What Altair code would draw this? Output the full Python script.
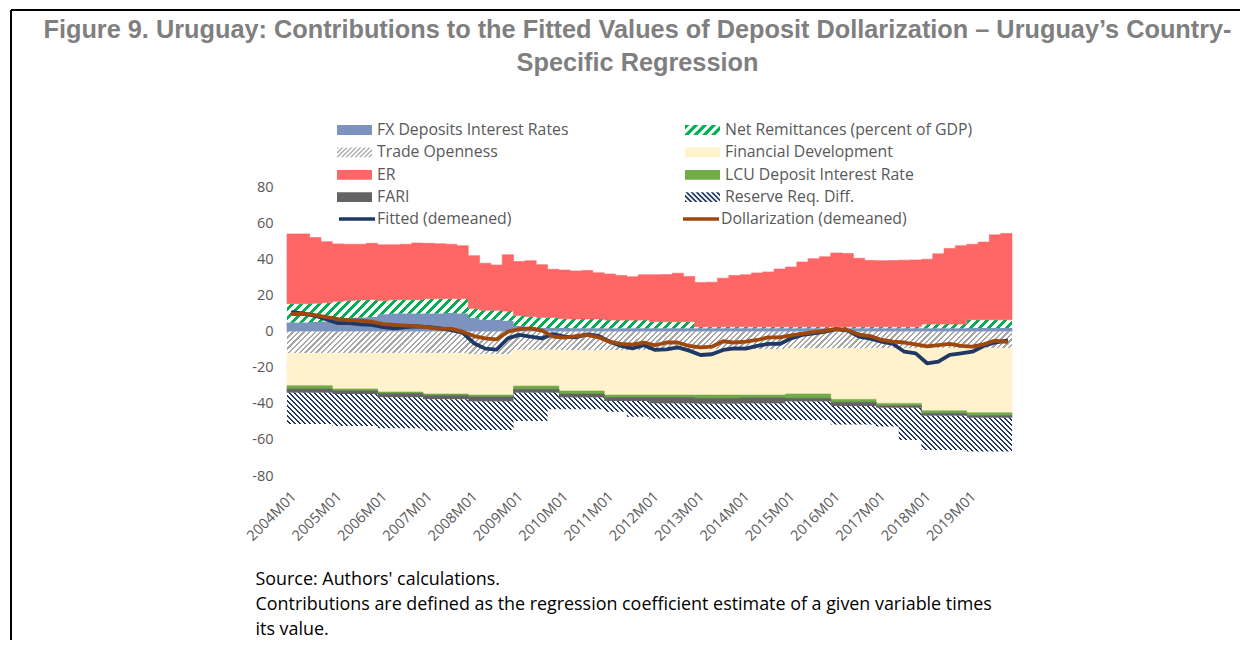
import altair as alt
import numpy as np
import pandas as pd

# ---------------- data ----------------
tick_labels = ["2004M01", "2005M01", "2006M01", "2007M01", "2008M01", "2009M01",
               "2010M01", "2011M01", "2012M01", "2013M01", "2014M01", "2015M01",
               "2016M01", "2017M01", "2018M01", "2019M01"]

# quarterly contributions 2004Q1 ... 2019Q4
fx_q = [5.0, 5.0, 5.2, 5.5, 7.0, 7.5, 7.8, 8.0, 9.5, 10.0, 10.0, 10.0,
        10.0, 10.0, 10.2, 10.0, 7.5, 6.5, 6.5, 6.0, 3.0, 2.5, 2.0, 2.0,
        1.9, 1.8, 1.8, 1.8, 1.8, 1.8, 1.8, 1.8, 1.8, 1.8, 1.8, 1.8,
        1.8, 1.8, 1.8, 1.8, 1.8, 1.8, 1.8, 1.8, 1.8, 1.8, 1.8, 1.8,
        1.8, 1.8, 1.8, 1.8, 1.8, 1.8, 1.8, 1.8, 1.8, 1.8, 1.8, 1.8,
        2.0, 2.0, 2.0, 2.0]
er_q = [38.6, 38.6, 36.4, 33.8, 31.8, 31.1, 30.8, 31.1, 30.9, 30.4, 30.7, 31.4,
        30.7, 30.5, 30.0, 29.4, 29.2, 26.0, 25.0, 31.2, 29.9, 30.9, 29.2, 26.7,
        27.0, 26.6, 26.9, 25.6, 25.5, 24.7, 24.0, 25.1, 26.0, 26.1, 26.9, 25.1,
        24.5, 24.7, 26.9, 28.4, 28.8, 29.8, 30.4, 32.0, 33.1, 35.9, 37.7, 38.8,
        40.9, 40.6, 37.9, 36.7, 36.6, 36.7, 36.9, 37.0, 35.9, 38.9, 41.9, 43.4,
        41.8, 43.0, 47.0, 47.8]
rr_q = [-17.3, -17.3, -17.3, -17.3, -17.7, -17.7, -17.7, -17.7,
        -17.2, -17.2, -17.2, -17.2, -17.4, -17.4, -17.4, -17.4,
        -15.7, -15.7, -15.7, -15.7, -15.7, -15.7, -15.7, -9.2,
        -6.5, -6.5, -6.5, -6.5, -5.9, -5.9, -8.7, -8.7,
        -8.3, -8.3, -8.3, -8.3, -8.5, -8.5, -8.5, -8.5,
        -9.2, -9.2, -9.2, -9.2, -10.2, -10.2, -10.2, -10.2,
        -10.2, -10.2, -10.2, -10.2, -10.4, -10.4, -17.9, -17.9,
        -19.0, -19.0, -19.0, -19.0, -18.8, -18.8, -18.8, -18.8]
fitted_q = [10.7, 9.9, 8.7, 6.7, 4.6, 4.6, 4.0, 3.7, 2.4, 1.7, 2.4, 2.8,
            2.4, 1.7, 0.8, -0.6, -6.5, -9.5, -10.0, -3.8, -1.9, -2.8, -3.8, -1.4,
            -2.8, -3.2, -1.6, -2.4, -5.6, -8.0, -9.3, -7.6, -10.2, -9.9, -8.8, -10.6,
            -13.0, -12.6, -10.2, -9.3, -9.5, -8.0, -6.9, -6.9, -3.8, -1.9, -1.0, -0.1,
            1.3, 0.5, -2.8, -3.9, -5.6, -6.9, -11.2, -12.1, -17.6, -16.7, -13.0, -12.1,
            -11.2, -8.0, -6.1, -5.0]
dollar_q = [9.7, 9.7, 9.1, 7.9, 6.9, 6.3, 6.0, 5.4, 4.1, 3.7, 3.3, 3.0,
            2.3, 1.5, 1.5, -0.1, -2.5, -3.8, -4.4, -0.1, 1.3, 1.7, 0.5, -2.8,
            -3.4, -2.5, -1.9, -3.2, -5.8, -6.9, -7.3, -6.1, -7.6, -6.1, -6.1, -8.0,
            -8.8, -8.4, -5.4, -6.1, -5.6, -4.7, -3.2, -3.2, -2.1, -1.2, -0.4, 0.5,
            1.5, 0.7, -1.7, -2.5, -4.7, -5.6, -6.1, -7.1, -8.2, -7.6, -6.9, -8.0,
            -8.4, -7.1, -5.0, -5.8]

# annual contributions 2004 ... 2019
nr_a = [10.4, 9.7, 7.6, 8.1, 5.3, 5.8, 5.1, 4.5, 3.6, 0.8, 0.8, 0.8, 0.8, 0.8, 2.3, 4.5]
trade_a = [-12.1, -12.0, -12.0, -12.0, -12.7, -10.2, -10.5, -10.5, -10.5, -10.0,
           -10.0, -9.5, -9.5, -9.3, -9.3, -9.3]
findev_a = [-17.9, -19.8, -21.5, -22.6, -22.5, -20.0, -22.4, -24.7, -24.7, -25.2,
            -25.2, -25.1, -28.1, -30.5, -34.6, -35.7]
lcu_a = [-1.8, -1.0, -0.8, -0.8, -1.0, -1.8, -1.7, -1.3, -1.3, -1.8, -1.5, -2.4,
         -1.6, -1.3, -1.4, -1.6]
fari_a = [-2.1, -1.8, -2.1, -2.1, -2.6, -1.9, -2.0, -2.0, -3.3, -3.0, -3.1, -1.8,
          -2.1, -1.1, -1.3, -1.1]

title_lines = ["Figure 9. Uruguay: Contributions to the Fitted Values of Deposit Dollarization \u2013 Uruguay\u2019s Country-",
               "Specific Regression"]
source_lines = ["Source: Authors' calculations.",
                "Contributions are defined as the regression coefficient estimate of a given variable times",
                "its value."]

# ---------------- layout / style ----------------
W, H = 725, 289
Y_MIN, Y_MAX = -80, 80
PX = H / (Y_MAX - Y_MIN)
NQ = len(fx_q)

FONT = "Open Sans"
TXT = "#595959"

# legend order (column-major in a 2-column legend -> matches the reference rows)
names = ["FX Deposits Interest Rates", "Trade Openness", "ER", "FARI",
         "Net Remittances (percent of GDP)", "Financial Development",
         "LCU Deposit Interest Rate", "Reserve Req. Diff."]
colors = {"FX Deposits Interest Rates": "#7b93be",
          "Net Remittances (percent of GDP)": "#00b050",
          "Trade Openness": "#a6a6a6",
          "Financial Development": "#fff2cc",
          "ER": "#ff6666",
          "LCU Deposit Interest Rate": "#70ad47",
          "FARI": "#636363",
          "Reserve Req. Diff.": "#203864"}
hatch_style = {"Net Remittances (percent of GDP)": (9.0, 0.5, "/", 0.51, 0.26),
               "Trade Openness": (5.5, 0.4, "/", 0.26, 0.10),
               "Reserve Req. Diff.": (5.0, 0.5, "\\", 0.29, 0.14)}


def rep(a):
    return np.repeat(np.asarray(a, float), 4)


pos_order = [("FX Deposits Interest Rates", np.asarray(fx_q, float)),
             ("Net Remittances (percent of GDP)", rep(nr_a)),
             ("ER", np.asarray(er_q, float))]
neg_order = [("Trade Openness", rep(trade_a)),
             ("Financial Development", rep(findev_a)),
             ("LCU Deposit Interest Rate", rep(lcu_a)),
             ("FARI", rep(fari_a)),
             ("Reserve Req. Diff.", np.asarray(rr_q, float))]


def stack(order):
    base = np.zeros(NQ)
    out = {}
    for name, v in order:
        out[name] = (base.copy(), base + v)
        base = base + v
    return out


bounds = {**stack(pos_order), **stack(neg_order)}


def step_frame(lo, hi):
    # each quarter starts at month 3q; the closing row marks the end of the last quarter
    xs = [3 * q for q in range(NQ)] + [3 * NQ]
    los = list(lo) + [lo[-1]]
    his = list(hi) + [hi[-1]]
    return pd.DataFrame({"x": xs, "lo": los, "hi": his})


def hatch_gradient(color, period, duty, direction, h_px, w_px=W):
    S = w_px + h_px
    p = period / S
    stops = []
    k = 0
    while k * p < 1:
        a = k * p
        b = min(a + p * duty, 1.0)
        c = min((k + 1) * p, 1.0)
        stops += [(a, color), (b, color), (b, "#ffffff"), (c, "#ffffff")]
        k += 1
    dx = S * w_px / (w_px ** 2 + h_px ** 2)
    dy = dx * h_px / w_px
    if direction == "/":
        x1, y1, x2, y2 = 0, 0, dx, dy
    else:
        x1, y1, x2, y2 = 0, 1, dx, 1 - dy
    return alt.LinearGradient(
        gradient="linear",
        stops=[alt.GradientStop(offset=round(o, 5), color=col) for o, col in stops],
        x1=x1, y1=y1, x2=round(x2, 6), y2=round(y2, 6))


x_enc = alt.X("x:Q", scale=alt.Scale(domain=[0, 3 * NQ], nice=False, zero=False),
              axis=alt.Axis(values=[12 * i + 0.5 for i in range(len(tick_labels))],
                            labelExpr="[" + ",".join("'%s'" % t for t in tick_labels) + "][floor(datum.value / 12)]",
                            labelAngle=-45, labelAlign="right", labelBaseline="middle",
                            labelPadding=18, labelOffset=5, labelOverlap=False,
                            labelFont=FONT, labelFontSize=14.5, labelColor=TXT,
                            ticks=False, domain=False, grid=False,
                            title=source_lines, titleFont=FONT, titleFontSize=17.9,
                            titleFontWeight="normal", titleColor="#000000",
                            titleAnchor="start", titleAlign="left", titleBaseline="top",
                            titleX=-32, titleY=94, titleLineHeight=25))
y_scale = alt.Scale(domain=[Y_MIN, Y_MAX], nice=False, zero=False)
y_enc = alt.Y("hi:Q", scale=y_scale,
              axis=alt.Axis(values=list(range(-80, 81, 20)), labelExpr="toString(datum.value)",
                            labelFont=FONT, labelFontSize=14.5,
                            labelColor=TXT, labelPadding=14, ticks=False, domain=False,
                            grid=False, title=None))

layers = []
for name, _ in pos_order + neg_order:
    lo, hi = bounds[name]
    df = step_frame(lo, hi)
    if name in hatch_style:
        period, duty, direc, _, _ = hatch_style[name]
        h_px = (max(lo.max(), hi.max()) - min(lo.min(), hi.min())) * PX
        mark = alt.Chart(df).mark_area(
            interpolate="step-after",
            fill=hatch_gradient(colors[name], period, duty, direc, h_px), strokeWidth=0)
    else:
        mark = alt.Chart(df).mark_area(interpolate="step-after", fill=colors[name],
                                       stroke=colors[name], strokeWidth=0.6)
    layers.append(mark.encode(x=x_enc, y=y_enc, y2="lo:Q"))

# ---- lines ----
line_names = ["Fitted (demeaned)", "Dollarization (demeaned)"]
line_colors = ["#1f3864", "#9e480e"]
line_legend = alt.Legend(title=None, orient="none", legendX=50, legendY=22, columns=2,
                         columnPadding=169, rowPadding=0, clipHeight=20, symbolType="stroke",
                         symbolSize=1300, symbolStrokeWidth=3.5, labelFont=FONT,
                         labelFontSize=15.8, labelColor=TXT, labelOffset=0, padding=0,
                         labelLimit=400)
for nm, vals in zip(line_names, [fitted_q, dollar_q]):
    ldf = pd.DataFrame({"x": [3 * q + 1.5 for q in range(NQ)], "hi": vals, "series": nm})
    layers.append(alt.Chart(ldf).mark_line(strokeWidth=3.8, strokeJoin="round", strokeCap="round").encode(
        x=x_enc, y=y_enc,
        stroke=alt.Stroke("series:N", scale=alt.Scale(domain=line_names, range=line_colors),
                          legend=line_legend)))


# ---- legend for the stacked contributions ----
def clip_poly(pts, xmin, xmax):
    def clip(points, inside, inter):
        out = []
        for i in range(len(points)):
            cur, prev = points[i], points[i - 1]
            if inside(cur):
                if not inside(prev):
                    out.append(inter(prev, cur))
                out.append(cur)
            elif inside(prev):
                out.append(inter(prev, cur))
        return out

    def ix(xc):
        def f(p, q):
            t = (xc - p[0]) / (q[0] - p[0])
            return (xc, p[1] + t * (q[1] - p[1]))
        return f
    pts = clip(pts, lambda p: p[0] >= xmin, ix(xmin))
    if pts:
        pts = clip(pts, lambda p: p[0] <= xmax, ix(xmax))
    return pts


HH = 0.28


def hatch_path(period, width, direction):
    polys = []
    a = -1 - 2 * HH - period
    while a < 1:
        if direction == "/":
            pts = [(a, HH), (a + width, HH), (a + width + 2 * HH, -HH), (a + 2 * HH, -HH)]
        else:
            pts = [(a + 2 * HH, HH), (a + 2 * HH + width, HH), (a + width, -HH), (a, -HH)]
        c = clip_poly(pts, -1, 1)
        if len(c) >= 3:
            polys.append(c)
        a += period
    return " ".join("M" + "L".join("%.3f,%.3f" % p for p in poly) + "Z" for poly in polys)


solid_path = "M-1,-%.2fL1,-%.2fL1,%.2fL-1,%.2fZ" % (HH, HH, HH, HH)
shapes = []
for nm in names:
    if nm in hatch_style:
        _, _, direc, per_u, w_u = hatch_style[nm]
        shapes.append(hatch_path(per_u, w_u, direc))
    else:
        shapes.append(solid_path)

fill_legend = alt.Legend(title=None, orient="none", legendX=50, legendY=-67, columns=2,
                         columnPadding=116, rowPadding=2.4, clipHeight=20, symbolSize=1225,
                         symbolStrokeWidth=0, symbolOpacity=1, labelFont=FONT, labelFontSize=15.8,
                         labelColor=TXT, labelOffset=5, padding=0, labelLimit=400)
leg_df = pd.DataFrame({"series": names})
layers.append(alt.Chart(leg_df).mark_point(filled=True, opacity=0).encode(
    fill=alt.Fill("series:N", scale=alt.Scale(domain=names, range=[colors[n] for n in names]),
                  legend=fill_legend),
    shape=alt.Shape("series:N", scale=alt.Scale(domain=names, range=shapes), legend=fill_legend)))

# ---- figure frame ----
frame_df = pd.DataFrame({"k": [0]})
layers.append(alt.Chart(frame_df).mark_rule(color="#000000", strokeWidth=2).encode(
    x=alt.value(-276), x2=alt.value(1240 - 287), y=alt.value(-177)))
layers.append(alt.Chart(frame_df).mark_rule(color="#000000", strokeWidth=2).encode(
    x=alt.value(-276), y=alt.value(-177), y2=alt.value(640 - 187)))

chart = alt.layer(*layers).properties(
    width=W, height=H,
    padding={"left": 279, "top": 179, "right": 228, "bottom": 164},
    autosize=alt.AutoSizeParams(type="none"),
    title=alt.TitleParams(text=title_lines, font="Liberation Sans", fontSize=25.3,
                          fontWeight="bold", color="#7f7f7f", anchor="middle",
                          offset=-67, lineHeight=33, dx=-12),
).configure(background="#ffffff").configure_view(stroke=None)

chart.save("out.html", embed_options={"renderer": "svg", "actions": False})
